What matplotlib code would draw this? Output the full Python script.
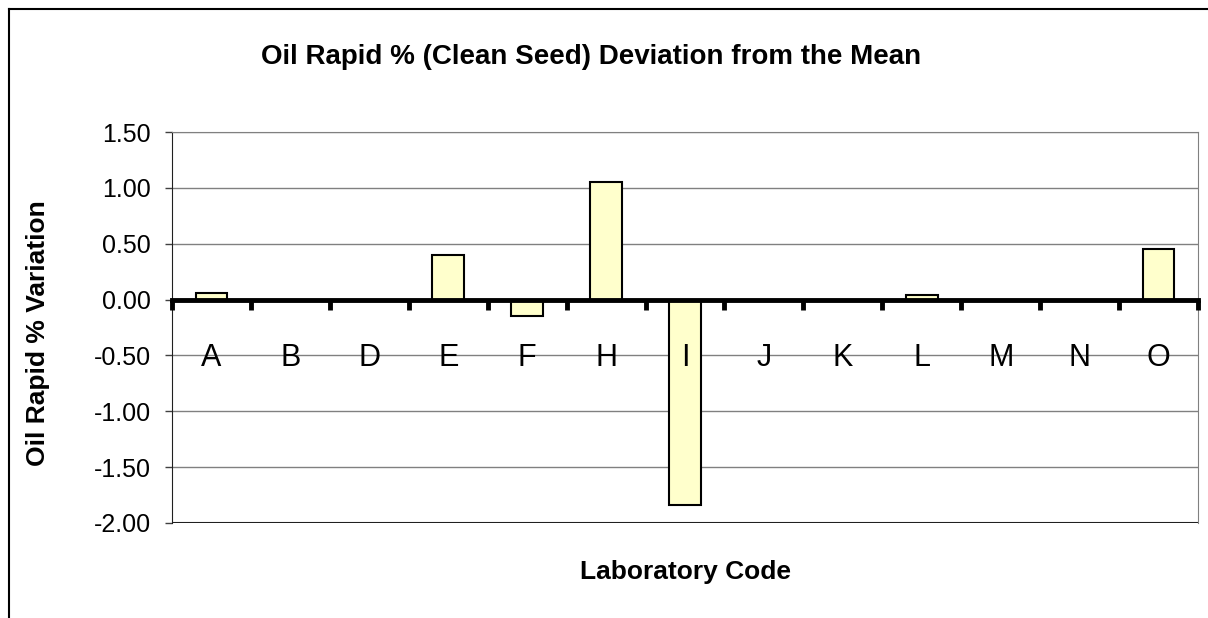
import numpy as np
import matplotlib.pyplot as plt
from matplotlib.ticker import FixedLocator, FormatStrFormatter

plt.rcParams['font.family'] = ['Liberation Sans', 'DejaVu Sans']

labs = ['A', 'B', 'D', 'E', 'F', 'H', 'I', 'J', 'K', 'L', 'M', 'N', 'O']
devs = [0.06, 0.0, 0.0, 0.40, -0.15, 1.05, -1.84, 0.0, 0.0, 0.04, 0.0, 0.0, 0.45]
yticks = [1.5, 1.0, 0.5, 0.0, -0.5, -1.0, -1.5, -2.0]

fig = plt.figure(figsize=(12.08, 6.18), dpi=100)
ax = fig.add_axes([172/1208, 95/618, 1026/1208, 391/618])

x = np.arange(len(labs))
ax.bar(x, devs, width=0.4, color='#FFFFCC', edgecolor='black', linewidth=1.5, zorder=3)

ax.set_xlim(-0.5, len(labs) - 0.5)
ax.set_ylim(-2.0, 1.5)
ax.set_yticks(yticks)
ax.yaxis.set_major_formatter(FormatStrFormatter('%.2f'))
ax.tick_params(axis='y', labelsize=18, length=5, width=1, pad=10, color='#404040')
ax.set_axisbelow(True)
ax.grid(axis='y', color='#808080', linewidth=1)

# x axis sits on zero, category ticks between bars
ax.spines['bottom'].set_position(('data', 0))
ax.spines['bottom'].set_linewidth(3.5)
ax.spines['bottom'].set_zorder(4)
ax.spines['top'].set_color('#808080')
ax.spines['right'].set_color('#808080')
ax.spines['left'].set_color('#202020')
ax.axhline(-2.0, color='#202020', linewidth=1.5, zorder=2)
ax.xaxis.set_minor_locator(FixedLocator(np.arange(-0.5, len(labs), 1.0)))
ax.tick_params(axis='x', which='minor', direction='out', length=7, width=3.5, color='black')
ax.set_xticks(x)
ax.set_xticklabels(labs)
ax.tick_params(axis='x', which='major', length=0, labelsize=22, pad=31)
ax.xaxis.set_zorder(5)  # category labels drawn over the bars

fig.text(38/1208, 1 - 333/618, 'Oil Rapid % Variation', fontsize=19, fontweight='bold',
         rotation=90, ha='center', va='center')
fig.text(685/1208, 1 - 572/618, 'Laboratory Code', fontsize=19, fontweight='bold',
         ha='center', va='center')
fig.text(591/1208, 1 - 57/618, 'Oil Rapid % (Clean Seed) Deviation from the Mean',
         fontsize=20, fontweight='bold', ha='center', va='center')

# outer chart frame (cropped at right and bottom)
fig.add_artist(plt.Line2D([9/1208, 9/1208], [0, 1 - 9/618], color='black', linewidth=1.5,
                          transform=fig.transFigure))
fig.add_artist(plt.Line2D([9/1208, 1], [1 - 9/618, 1 - 9/618], color='black', linewidth=1.5,
                          transform=fig.transFigure))

fig.savefig('out.png', dpi=100)
